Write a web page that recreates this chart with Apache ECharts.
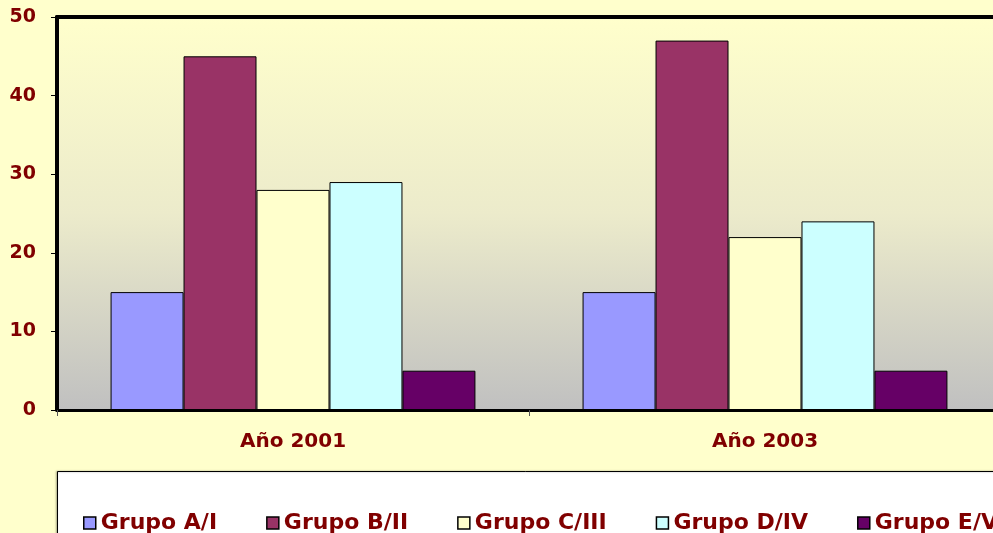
<!DOCTYPE html>
<html><head><meta charset="utf-8">
<script src="https://cdn.jsdelivr.net/npm/echarts@6/dist/echarts.min.js"></script>
<style>html,body{margin:0;padding:0;background:#FFFFCC;}#c{width:993px;height:533px;}</style>
</head><body><div id="c"></div>
<script>
const categories = ['Año 2001', 'Año 2003'];
const seriesNames = ['Grupo A/I', 'Grupo B/II', 'Grupo C/III', 'Grupo D/IV', 'Grupo E/V'];
const grupoA = [15, 15];
const grupoB = [45, 47];
const grupoC = [28, 22];
const grupoD = [29, 24];
const grupoE = [5, 5];
const yTicks = [0, 10, 20, 30, 40, 50];
const colors = ['#9999FF', '#993366', '#FFFFCC', '#CCFFFF', '#660066'];
const values = [grupoA, grupoB, grupoC, grupoD, grupoE];

const txt = '#800000';
const font = 'DejaVu Sans, Verdana, sans-serif';
const chart = echarts.init(document.getElementById('c'));
chart.setOption({
  backgroundColor: '#FFFFCC',
  animation: false,
  graphic: [{
    type: 'rect', z: -1, silent: true,
    shape: { x: 57.5, y: 471.5, width: 1000, height: 100 },
    style: { fill: '#FFFFFF', stroke: '#000000', lineWidth: 1, shadowColor: 'rgba(0,0,0,0.35)', shadowOffsetX: -1, shadowOffsetY: 0, shadowBlur: 2 }
  }],
  grid: {
    left: 57, top: 17, width: 944, height: 393,
    outerBoundsMode: 'none', containLabel: false,
    show: true, borderWidth: 0,
    backgroundColor: new echarts.graphic.LinearGradient(0, 0, 0, 1, [
      { offset: 0, color: '#FFFFCC' },
      { offset: 0.5, color: '#ECEBCB' },
      { offset: 1, color: '#C0C0C0' }
    ])
  },
  legend: {
    data: seriesNames,
    left: 83, top: 512, width: 1200, itemWidth: 12, itemHeight: 12, itemGap: 49, padding: 0,
    icon: 'rect',
    itemStyle: { borderColor: '#000', borderWidth: 1.5 },
    textStyle: { color: txt, fontWeight: 'bold', fontSize: 22, fontFamily: font }
  },
  xAxis: [{
    type: 'category', data: categories, position: 'bottom',
    axisLine: { show: true, lineStyle: { color: '#000', width: 3 } },
    axisTick: { show: true, length: 6, lineStyle: { color: '#555', width: 1 } },
    axisLabel: { color: txt, fontWeight: 'bold', fontSize: 20, fontFamily: font, margin: 22 },
    splitLine: { show: false }
  }, {
    type: 'category', data: categories, position: 'top',
    axisLine: { show: true, lineStyle: { color: '#000', width: 4 } },
    axisTick: { show: false }, axisLabel: { show: false }, splitLine: { show: false }
  }],
  yAxis: {
    type: 'value', min: 0, max: 50, interval: 10,
    axisLine: { show: true, lineStyle: { color: '#000', width: 4 } },
    axisTick: { show: true, length: 6, lineStyle: { color: '#000', width: 1 } },
    axisLabel: {
      color: txt, fontWeight: 'bold', fontSize: 19, fontFamily: font, margin: 21,
      formatter: v => yTicks.includes(v) ? String(v) : ''
    },
    splitLine: { show: false }
  },
  series: seriesNames.map((n, i) => ({
    name: n, type: 'bar', data: values[i],
    barGap: '0%', barCategoryGap: '22.7%',
    itemStyle: { color: colors[i], borderColor: '#000', borderWidth: 1 }
  }))
});
</script></body></html>
